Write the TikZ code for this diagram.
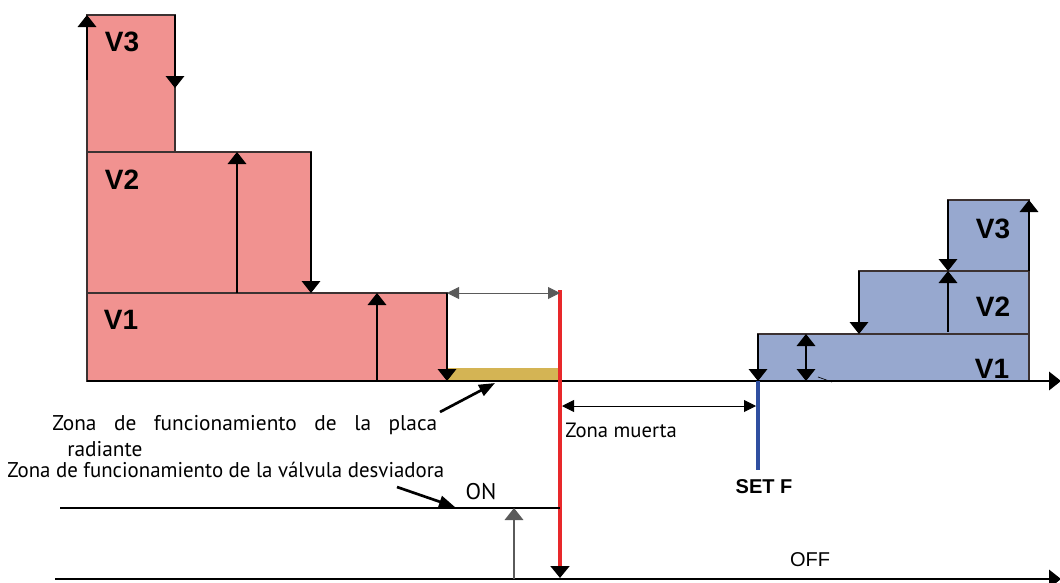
\documentclass[tikz,border=0pt]{standalone}
\usepackage{fontspec}
\setmainfont{PT Sans}
\newfontfamily\arialfont{Liberation Sans}
\usepackage{graphicx,xcolor}
\definecolor{heatred}{RGB}{241,146,144}
\definecolor{coolblue}{RGB}{151,168,207}
\definecolor{plategold}{RGB}{212,180,84}
\definecolor{blkedge}{RGB}{60,50,50}
\definecolor{limitred}{RGB}{232,40,42}
\definecolor{setblue}{RGB}{47,79,160}
\definecolor{dimgray}{RGB}{90,90,90}
\usetikzlibrary{arrows.meta}

\begin{document}
\begin{tikzpicture}[x=0.75pt,y=-0.75pt,
  redblk/.style={draw=blkedge, line width=0.9pt, fill=heatred},
  blueblk/.style={draw=blkedge, line width=0.9pt, fill=coolblue},
  vlbl/.style={font=\arialfont\bfseries\fontsize{21}{24}\selectfont},
  txt/.style={font=\fontsize{15.5}{18}\selectfont, inner sep=0pt},
  step arrow/.style={-{Triangle[length=9pt,width=14pt]}, line width=0.9pt, black},
  dim arrow/.style={{Triangle[length=9pt,width=9pt]}-{Triangle[length=9pt,width=9pt]}, line width=0.7pt, draw=dimgray},
  call arrow/.style={-{Triangle[length=12pt,width=9pt]}, line width=2pt}
]
\useasboundingbox (0,0) rectangle (1060,582);

% heating steps
\draw[redblk] (87,293) rectangle (447,381);
\draw[redblk] (87,152) rectangle (311,293);
\draw[redblk] (87,15) rectangle (175,152);
\node[vlbl] (hv3) at (122,42) {V3};
\node[vlbl] (hv2) at (122,180) {V2};
\node[vlbl] (hv1) at (121,320) {V1};

% cooling steps
\draw[blueblk] (758,334) rectangle (1029,381);
\draw[blueblk] (859,271) rectangle (1029,334);
\draw[blueblk] (948,200) rectangle (1029,271);
\node[vlbl] (cv3) at (993,229) {V3};
\node[vlbl] (cv2) at (993,307) {V2};
\node[vlbl] (cv1) at (992,369) {V1};

% radiant plate zone
\fill[plategold] (447,368) rectangle (559,381);

% points
\coordinate (h3a) at (87,80);   \coordinate (h3b) at (87,15);
\coordinate (h3c) at (175,15);  \coordinate (h3d) at (175,88);
\coordinate (h2a) at (237,293); \coordinate (h2b) at (237,152);
\coordinate (h2c) at (311,152); \coordinate (h2d) at (311,293);
\coordinate (h1a) at (377,381); \coordinate (h1b) at (377,293);
\coordinate (h1c) at (447,293); \coordinate (h1d) at (447,381);
\coordinate (c1a) at (758,334); \coordinate (c1b) at (758,381);
\coordinate (c1c) at (806,334); \coordinate (c1d) at (806,381);
\coordinate (c1e) at (818,377); \coordinate (c1f) at (832,382);
\coordinate (c2a) at (859,271); \coordinate (c2b) at (859,334);
\coordinate (c2c) at (948,332); \coordinate (c2d) at (948,271);
\coordinate (c3a) at (948,200); \coordinate (c3b) at (948,271);
\coordinate (c3c) at (1029,271); \coordinate (c3d) at (1029,200);

% step arrows
\draw[step arrow] (h3a) -- (h3b);
\draw[step arrow] (h3c) -- (h3d);
\draw[step arrow] (h2a) -- (h2b);
\draw[step arrow] (h2c) -- (h2d);
\draw[step arrow] (h1a) -- (h1b);
\draw[step arrow] (h1c) -- (h1d);
\draw[step arrow] (c1a) -- (c1b);
\draw[step arrow, {Triangle[length=9pt,width=14pt]}-{Triangle[length=9pt,width=14pt]}] (c1c) -- (c1d);
\draw[line width=0.5pt] (c1e) -- (c1f);
\draw[step arrow] (c2a) -- (c2b);
\draw[step arrow] (c2c) -- (c2d);
\draw[step arrow] (c3a) -- (c3b);
\draw[step arrow] (c3c) -- (c3d);

% temperature axis
\coordinate (ax0) at (87,381);
\coordinate (ax1) at (1061,381);
\draw[line width=0.9pt, -{Triangle[length=9pt,width=14pt]}] (ax0) -- (ax1);

% set point lines
\coordinate (lim0) at (560,290);
\coordinate (lim1) at (560,578);
\draw[limitred, line width=2.6pt, -{Triangle[length=9pt,width=14pt,color=black]}] (lim0) -- (lim1);
\coordinate (set0) at (758,381);
\coordinate (set1) at (758,470);
\draw[setblue, line width=2.4pt] (set0) -- (set1);
\node[font=\arialfont\bfseries\fontsize{15}{18}\selectfont] (setf) at (764,487) {SET F};

% dimensions
\coordinate (dz0) at (562,406);
\coordinate (dz1) at (756,406);
\draw[dim arrow, draw=black] (dz0) -- (dz1);
\node[txt, anchor=base west] (zm) at (565,437) {Zona muerta};
\draw[dim arrow] (h1c) -- (lim0 |- h1c);

% valve on/off
\coordinate (on0) at (60,508);
\coordinate (on1) at (560,508);
\coordinate (off0) at (55,579);
\coordinate (off1) at (1061,579);
\draw[line width=0.9pt] (on0) -- (on1);
\draw[line width=0.9pt, -{Triangle[length=9pt,width=14pt]}] (off0) -- (off1);
\coordinate (sw0) at (514,579);
\coordinate (sw1) at (514,508);
\draw[step arrow, draw=dimgray] (sw0) -- (sw1);
\node[txt, font=\fontsize{17}{20}\selectfont] (on) at (481,492) {ON};
\node[font=\arialfont\fontsize{15}{18}\selectfont] (off) at (810,560) {OFF};

% labels
\node[txt, font=\fontsize{16}{19}\selectfont, anchor=base west] (plate1) at (52,430)
  {\makebox[288.75pt][s]{Zona de funcionamiento de la placa}};
\node[txt, font=\fontsize{16}{19}\selectfont, anchor=base west] (plate2) at (67,456) {radiante};
\node[txt, font=\fontsize{16}{19}\selectfont, anchor=base west] (valve) at (7,477)
  {\resizebox{327.75pt}{\height}{Zona de funcionamiento de la válvula desviadora}};
\coordinate (pl0) at (440,412);
\coordinate (pl1) at (495,383);
\draw[call arrow] (pl0) -- (pl1);
\coordinate (va0) at (397,487);
\coordinate (va1) at (455,507);
\draw[call arrow] (va0) -- (va1);
\end{tikzpicture}
\end{document}
